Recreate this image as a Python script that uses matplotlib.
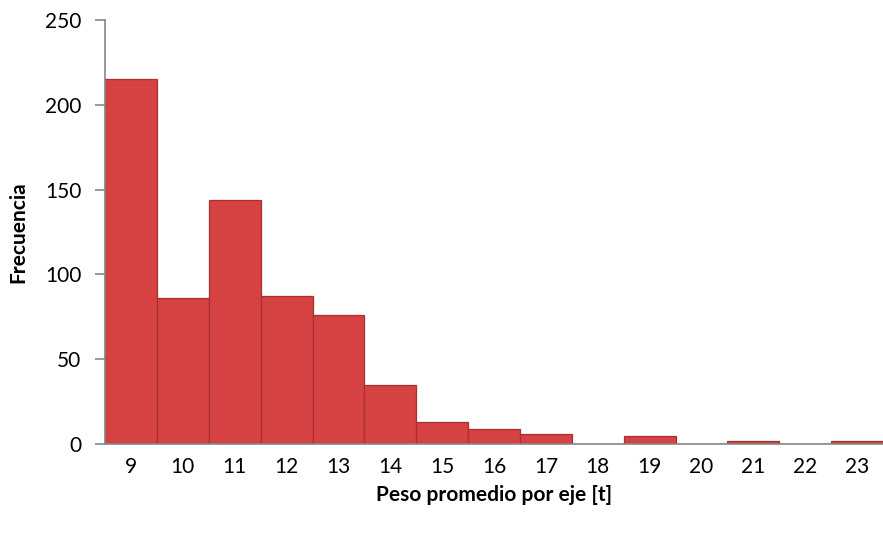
import numpy as np
import matplotlib.pyplot as plt

# Datos del histograma
clases = ['9', '10', '11', '12', '13', '14', '15', '16', '17', '18', '19', '20', '21', '22', '23']
frecuencia = [215, 86, 144, 87, 76, 35, 13, 9, 6, 0, 5, 0, 2, 0, 2]

plt.rcParams['font.family'] = ['Lato', 'DejaVu Sans']

fig = plt.figure(figsize=(8.83, 5.34), dpi=100)
ax = fig.add_axes([0.119, 0.1685, 0.881, 0.794])

x = np.arange(len(clases))
ax.bar(x, frecuencia, width=1.0, color='#D64242', edgecolor='#A83030', linewidth=0.9, zorder=2)

ax.set_xlim(-0.5, len(clases) - 0.5)
ax.set_ylim(0, 250)
ax.set_yticks(np.arange(0, 251, 50))
ax.set_xticks(x)
ax.set_xticklabels(clases)

for s in ['top', 'right']:
    ax.spines[s].set_visible(False)
ax.spines['left'].set_color('#868686')
ax.spines['bottom'].set_color('#868686')
ax.spines['left'].set_linewidth(1.2)
ax.spines['bottom'].set_linewidth(1.2)
ax.tick_params(axis='y', length=7, width=1.2, color='#868686', labelsize=15, pad=10)
ax.tick_params(axis='x', length=0, labelsize=15, pad=9)

ax.set_ylabel('Frecuencia', fontsize=15, fontweight='bold', labelpad=12)
ax.set_xlabel('Peso promedio por eje [t]', fontsize=15, fontweight='bold', labelpad=6)

plt.savefig('out.png', dpi=100)
